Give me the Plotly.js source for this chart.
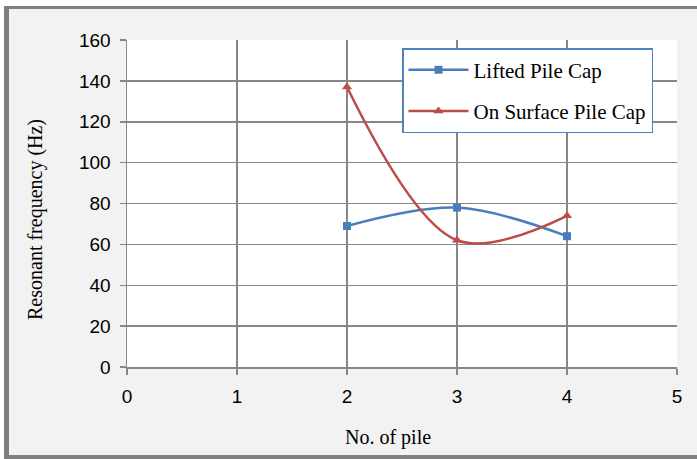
<!DOCTYPE html>
<html>
<head>
<meta charset="utf-8">
<script src="https://cdn.plot.ly/plotly-3.0.1.min.js"></script>
<style>
  html, body { margin: 0; padding: 0; background: #ffffff; }
  #frame { position: absolute; left: 4px; top: 6px; width: 693px; height: 453px;
           box-sizing: border-box; background: #f2f2f2;
           border-left: 5px solid #7f7f7f; border-top: 3px solid #7f7f7f; border-bottom: 4px solid #7f7f7f; }
  #chart { position: absolute; left: 0; top: 0; width: 697px; height: 459px; }
</style>
</head>
<body>
<div id="frame"></div>
<div id="chart"></div>
<script>
const pileCounts = [2, 3, 4];
const liftedPileCap = [69, 78, 64];
const onSurfacePileCap = [137, 62, 74];
const seriesNames = ["Lifted Pile Cap", "On Surface Pile Cap"];
const xTicks = [0, 1, 2, 3, 4, 5];
const yTicks = [0, 20, 40, 60, 80, 100, 120, 140, 160];

const gridColor = "#878787";

const traces = [
  {
    x: pileCounts, y: liftedPileCap, name: seriesNames[0], legendgroup: "a",
    type: "scatter", mode: "lines+markers",
    line: { color: "#4a7ebb", width: 2.5, shape: "spline", smoothing: 1 },
    marker: { symbol: "square", size: 8, color: "#4a7ebb" }
  },
  {
    x: pileCounts, y: onSurfacePileCap, name: seriesNames[1], legendgroup: "b",
    type: "scatter", mode: "lines+markers",
    line: { color: "#be4b48", width: 2.5, shape: "spline", smoothing: 1 },
    marker: { symbol: "triangle-up", size: 9, color: "#be4b48" }
  }
];

const layout = {
  width: 697, height: 459,
  margin: { l: 127, r: 20, t: 40, b: 92 },
  paper_bgcolor: "rgba(0,0,0,0)",
  plot_bgcolor: "#ffffff",
  showlegend: true,
  legend: {
    x: (402 - 127) / 550, y: (367 - 48) / 327, xanchor: "left", yanchor: "top",
    bgcolor: "#ffffff", bordercolor: "#4f81bd", borderwidth: 1.5,
    font: { family: "Liberation Serif, Times New Roman, serif", size: 21, color: "#000000" },
    tracegroupgap: 11, itemwidth: 60
  },
  xaxis: {
    range: [0, 5], tickvals: xTicks, ticktext: xTicks.map(String),
    showgrid: true, gridcolor: gridColor, gridwidth: 1.5,
    showline: true, linecolor: gridColor, linewidth: 1.5,
    ticks: "outside", ticklen: 6, tickcolor: gridColor, tickwidth: 1.5,
    zeroline: false, ticklabelstandoff: 6,
    tickfont: { family: "Liberation Sans, Arial, sans-serif", size: 19, color: "#000000" },
    fixedrange: true
  },
  yaxis: {
    range: [0, 160], tickvals: yTicks, ticktext: yTicks.map(String),
    showgrid: true, gridcolor: gridColor, gridwidth: 1.5,
    showline: true, linecolor: gridColor, linewidth: 1.5,
    ticks: "outside", ticklen: 6, tickcolor: gridColor, tickwidth: 1.5,
    zeroline: false, ticklabelstandoff: 5,
    tickfont: { family: "Liberation Sans, Arial, sans-serif", size: 19, color: "#000000" },
    fixedrange: true
  },
  annotations: [
    {
      text: "No. of pile", xref: "paper", yref: "paper",
      x: (388 - 127) / 550, y: -(437 - 367) / 327, xanchor: "center", yanchor: "middle",
      showarrow: false,
      font: { family: "Liberation Serif, Times New Roman, serif", size: 20, color: "#000000" }
    },
    {
      text: "Resonant frequency (Hz)", xref: "paper", yref: "paper",
      x: -(127 - 35) / 550, y: (367 - 220) / 327, xanchor: "center", yanchor: "middle",
      textangle: -90, showarrow: false,
      font: { family: "Liberation Serif, Times New Roman, serif", size: 20, color: "#000000" }
    }
  ]
};

Plotly.newPlot("chart", traces, layout, { displayModeBar: false, staticPlot: true });
</script>
</body>
</html>
